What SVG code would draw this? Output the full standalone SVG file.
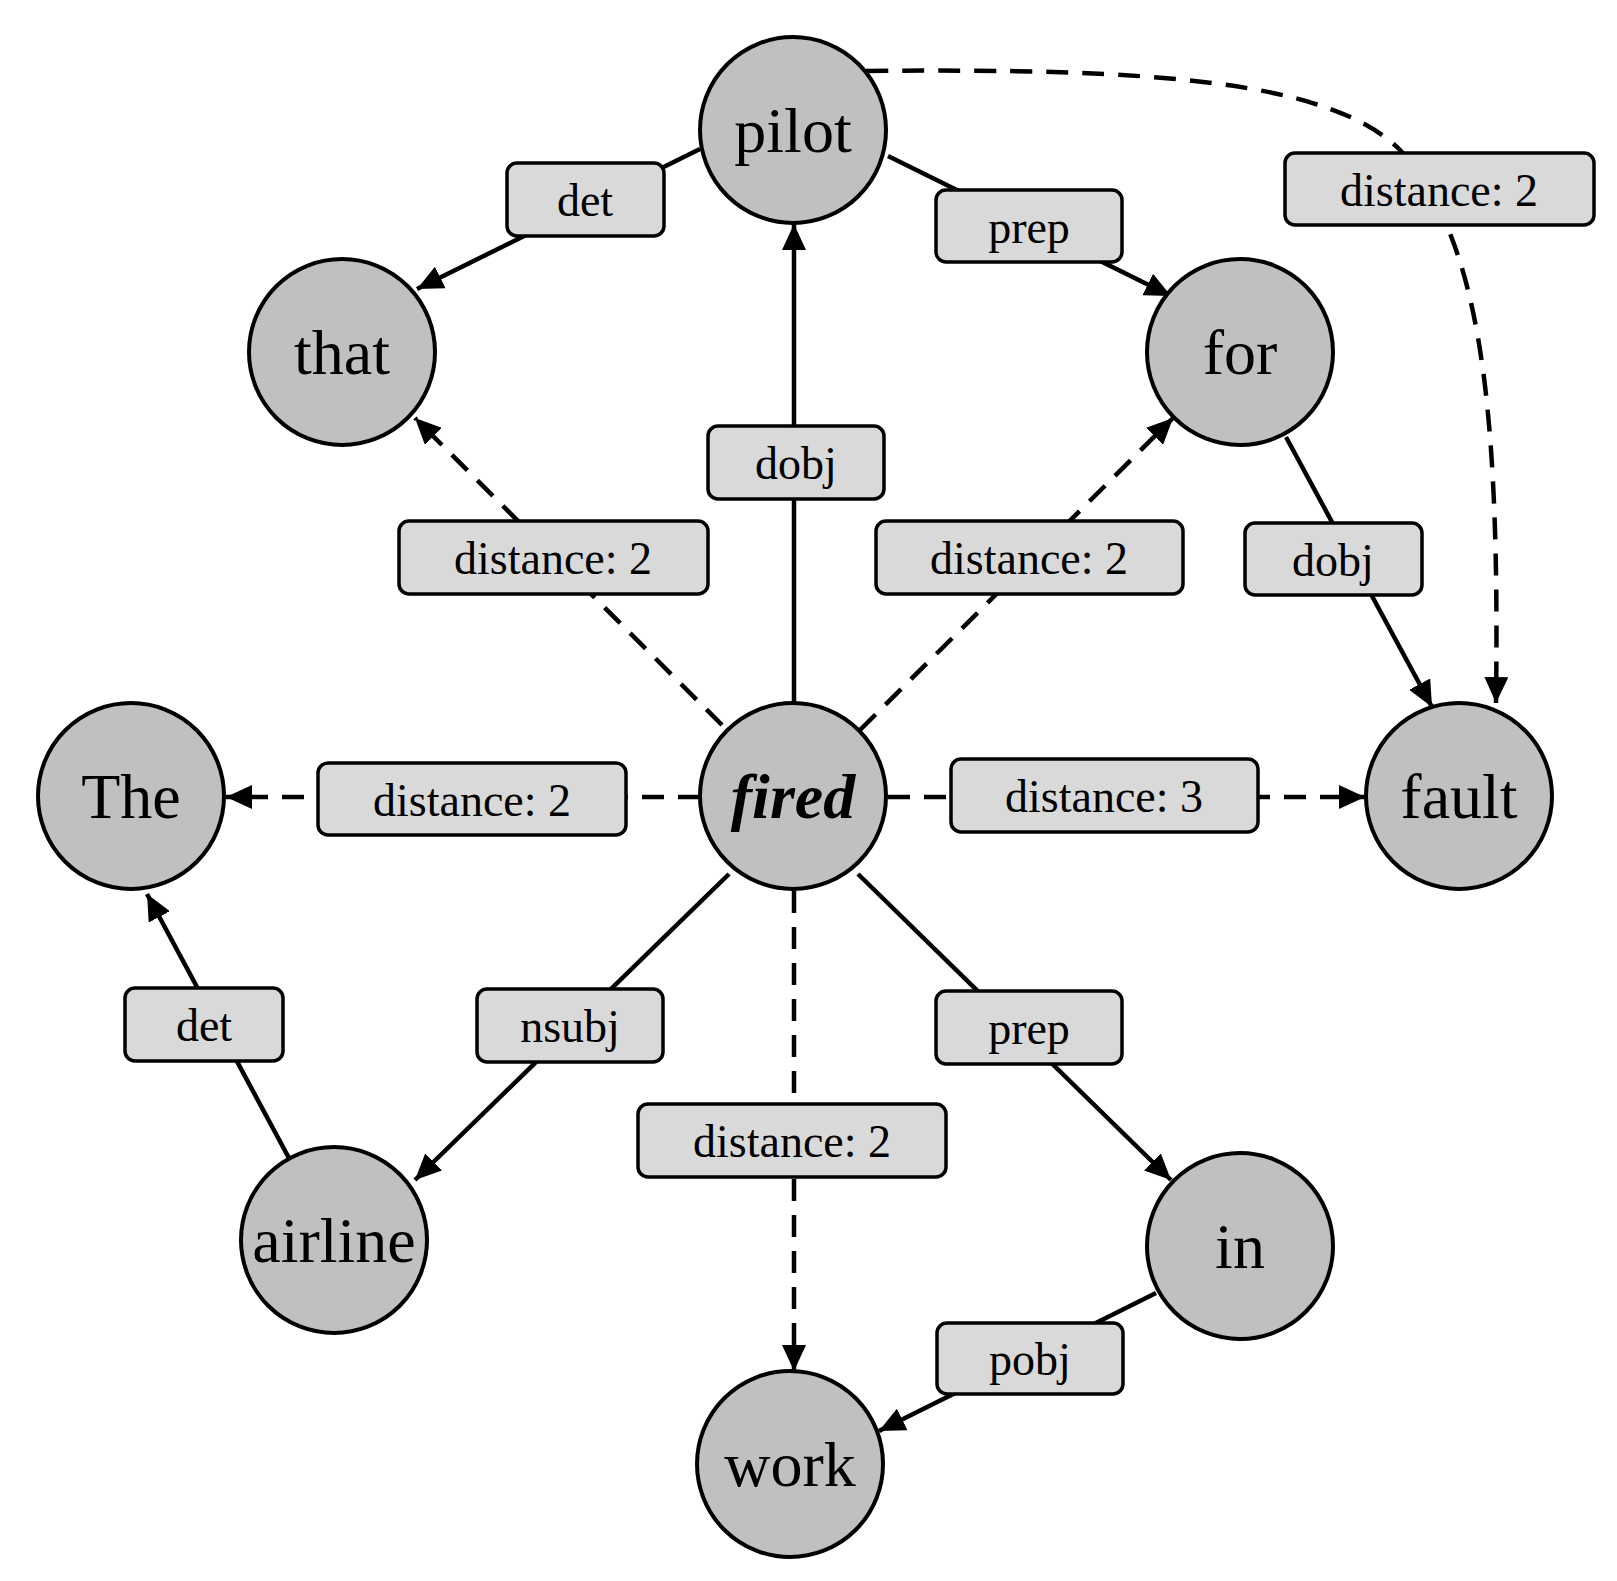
<svg xmlns="http://www.w3.org/2000/svg" width="1617" height="1581" viewBox="0 0 1617 1581">
<style>
.n{fill:#c0c0c0;stroke:#000;stroke-width:4}
.nt{font-family:"Liberation Serif",serif;font-size:64px;text-anchor:middle;fill:#000}
.l rect{fill:#d9d9d9;stroke:#000;stroke-width:3.5}
.l text{font-family:"Liberation Serif",serif;font-size:46px;text-anchor:middle;fill:#000}
.e{fill:none;stroke:#000;stroke-width:4.5;marker-end:url(#a)}
.d{stroke-dasharray:22,14}
</style>
<defs>
<marker id="a" markerUnits="userSpaceOnUse" markerWidth="30" markerHeight="24" refX="26" refY="12" orient="auto"><path d="M0,0 L26,12 L0,24 z" fill="#000"/></marker>
</defs>
<rect width="1617" height="1581" fill="#fff"/>
<g id="edges">
<path class="e" d="M700,149 L417,289"/>
<path class="e" d="M888,156 L1171,296"/>
<path class="e" d="M794,703 L794,224"/>
<path class="e d" d="M722,725 L415,418"/>
<path class="e d" d="M860,730 L1173,418"/>
<path class="e" d="M1286,437 L1432,707"/>
<path class="e d" d="M866,71 C1150,68 1330,80 1400,150 C1480,240 1500,400 1496,703"/>
<path class="e d" d="M700,797 L226,797"/>
<path class="e d" d="M888,797 L1365,797"/>
<path class="e" d="M290,1160 L147,894"/>
<path class="e" d="M729,874 L415,1180"/>
<path class="e" d="M858,874 L1171,1180"/>
<path class="e d" d="M794,891 L794,1371"/>
<path class="e" d="M1156,1293 L879,1431"/>
</g>
<g id="labels" class="l">
<g><rect x="507" y="163" width="157" height="73" rx="10"/><text x="585" y="216">det</text></g>
<g><rect x="936" y="190" width="186" height="72" rx="10"/><text x="1029" y="243">prep</text></g>
<g><rect x="1285" y="153" width="309" height="72" rx="10"/><text x="1439" y="206">distance: 2</text></g>
<g><rect x="708" y="426" width="176" height="73" rx="10"/><text x="796" y="479">dobj</text></g>
<g><rect x="399" y="521" width="309" height="73" rx="10"/><text x="553" y="574">distance: 2</text></g>
<g><rect x="876" y="521" width="307" height="73" rx="10"/><text x="1029" y="574">distance: 2</text></g>
<g><rect x="1245" y="523" width="177" height="72" rx="10"/><text x="1333" y="576">dobj</text></g>
<g><rect x="318" y="763" width="308" height="72" rx="10"/><text x="472" y="816">distance: 2</text></g>
<g><rect x="951" y="759" width="307" height="73" rx="10"/><text x="1104" y="812">distance: 3</text></g>
<g><rect x="125" y="988" width="158" height="73" rx="10"/><text x="204" y="1041">det</text></g>
<g><rect x="477" y="989" width="186" height="73" rx="10"/><text x="570" y="1042">nsubj</text></g>
<g><rect x="936" y="991" width="186" height="73" rx="10"/><text x="1029" y="1044">prep</text></g>
<g><rect x="638" y="1104" width="308" height="73" rx="10"/><text x="792" y="1157">distance: 2</text></g>
<g><rect x="937" y="1323" width="186" height="71" rx="10"/><text x="1030" y="1375">pobj</text></g>
</g>
<g id="pilot"><circle class="n" cx="793" cy="130" r="93"/><text class="nt" x="793" y="152">pilot</text></g>
<g id="that"><circle class="n" cx="342" cy="352" r="93"/><text class="nt" x="342" y="374">that</text></g>
<g id="for"><circle class="n" cx="1240" cy="352" r="93"/><text class="nt" x="1240" y="374">for</text></g>
<g id="The"><circle class="n" cx="131" cy="796" r="93"/><text class="nt" x="131" y="818">The</text></g>
<g id="fired"><circle class="n" cx="793" cy="796" r="93"/><text class="nt" x="793" y="818" font-weight="bold" font-style="italic">fired</text></g>
<g id="fault"><circle class="n" cx="1459" cy="796" r="93"/><text class="nt" x="1459" y="818">fault</text></g>
<g id="airline"><circle class="n" cx="334" cy="1240" r="93"/><text class="nt" x="334" y="1262">airline</text></g>
<g id="in"><circle class="n" cx="1240" cy="1246" r="93"/><text class="nt" x="1240" y="1268">in</text></g>
<g id="work"><circle class="n" cx="790" cy="1464" r="93"/><text class="nt" x="790" y="1486">work</text></g>
</svg>
